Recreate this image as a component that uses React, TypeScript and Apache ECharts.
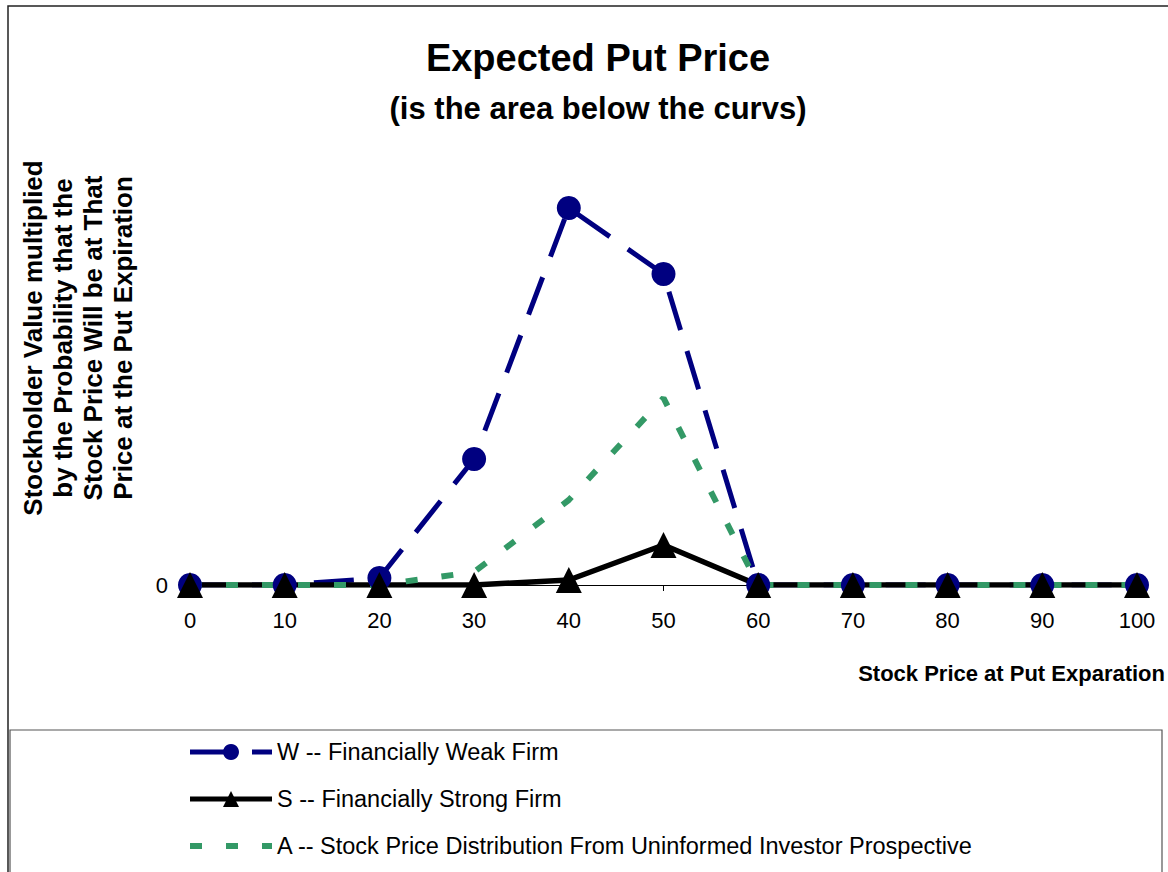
import React, { useEffect, useRef } from "react";
import * as echarts from "echarts";

const categories = ["0", "10", "20", "30", "40", "50", "60", "70", "80", "90", "100"];
const weakFirm = [0, 0, 7, 126, 377, 311, 0, 0, 0, 0, 0];
const strongFirm = [0, 0, 0, 0, 5, 40, 0, 0, 0, 0, 0];
const uninformed = [0, 0, 0, 13, 85, 187, 0, 0, 0, 0, 0];
const seriesNames = [
  "W -- Financially Weak Firm",
  "S -- Financially Strong Firm",
  "A -- Stock Price Distribution From Uninformed Investor Prospective",
];
const titleText = "Expected Put Price";
const subtitleText = "(is the area below the curvs)";
const yAxisName =
  "Stockholder Value multiplied\nby the Probability that the\nStock Price Will be at That\nPrice at the Put Expiration";
const xAxisName = "Stock Price at Put Exparation";

const FONT = 'Arial, "Liberation Sans", sans-serif';

export default function App() {
  const ref = useRef<HTMLDivElement>(null);
  useEffect(() => {
    if (!ref.current) return;
    const chart = echarts.init(ref.current, undefined, { renderer: "svg" });
    chart.setOption({
      animation: false,
      backgroundColor: "#ffffff",
      textStyle: { fontFamily: FONT, color: "#000" },
      grid: { left: 190, right: 31, top: 185, bottom: 287, outerBoundsMode: "none" },
      xAxis: {
        type: "category",
        data: categories,
        boundaryGap: false,
        axisLine: { show: true, lineStyle: { color: "#000", width: 1 } },
        axisTick: { show: true, length: 6, lineStyle: { color: "#000" } },
        axisLabel: { fontSize: 22, color: "#000", margin: 24, fontFamily: FONT },
        splitLine: { show: false },
      },
      yAxis: {
        type: "value",
        min: 0,
        max: 400,
        interval: 400,
        axisLine: { show: false },
        axisTick: { show: false },
        splitLine: { show: false },
        axisLabel: {
          fontSize: 22,
          color: "#000",
          margin: 22,
          fontFamily: FONT,
          formatter: (v: number) => (v === 0 ? "0" : ""),
        },
      },
      legend: {
        orient: "vertical",
        left: 182,
        top: 735,
        itemWidth: 82,
        itemHeight: 20,
        itemGap: 23,
        lineStyle: { width: 5 },
        textStyle: { fontSize: 23.5, color: "#000", fontFamily: FONT },
        data: [
          { name: seriesNames[0] },
          { name: seriesNames[1] },
          { name: seriesNames[2], itemStyle: { opacity: 0 }, lineStyle: { width: 6 } },
        ],
      },
      series: [
        {
          name: seriesNames[0],
          type: "line",
          data: weakFirm,
          symbol: "circle",
          symbolSize: 24,
          itemStyle: { color: "#000080" },
          lineStyle: { color: "#000080", width: 5, type: [40, 22] },
        },
        {
          name: seriesNames[1],
          type: "line",
          data: strongFirm,
          symbol: "triangle",
          symbolSize: 26,
          itemStyle: { color: "#000000" },
          lineStyle: { color: "#000000", width: 5.5, type: "solid" },
        },
        {
          name: seriesNames[2],
          type: "line",
          data: uninformed,
          symbol: "none",
          showSymbol: false,
          itemStyle: { color: "#339966" },
          lineStyle: { color: "#339966", width: 6, type: [12, 24] },
        },
      ],
      graphic: [
        {
          type: "rect",
          silent: true,
          z: -10,
          shape: { x: 8, y: 6, width: 1200, height: 900 },
          style: { fill: "none", stroke: "#222", lineWidth: 1.5 },
        },
        {
          type: "rect",
          silent: true,
          z: -10,
          shape: { x: 10, y: 730, width: 1152, height: 200 },
          style: { fill: "none", stroke: "#555", lineWidth: 1.2 },
        },
        {
          type: "text",
          x: 598,
          y: 58,
          style: {
            text: titleText,
            font: `bold 38px ${FONT}`,
            fill: "#000",
            align: "center",
            verticalAlign: "middle",
          },
        },
        {
          type: "text",
          x: 598,
          y: 108,
          style: {
            text: subtitleText,
            font: `bold 31px ${FONT}`,
            fill: "#000",
            align: "center",
            verticalAlign: "middle",
          },
        },
        {
          type: "text",
          x: 78,
          y: 338,
          rotation: Math.PI / 2,
          style: {
            text: yAxisName,
            font: `bold 26px ${FONT}`,
            lineHeight: 30,
            fill: "#000",
            align: "center",
            verticalAlign: "middle",
          },
        },
        {
          type: "text",
          x: 1165,
          y: 673,
          style: {
            text: xAxisName,
            font: `bold 22px ${FONT}`,
            fill: "#000",
            align: "right",
            verticalAlign: "middle",
          },
        },
      ],
    });
    return () => chart.dispose();
  }, []);
  return (
    <div
      ref={ref}
      style={{ position: "absolute", left: 0, top: 0, width: 1168, height: 872 }}
    />
  );
}
